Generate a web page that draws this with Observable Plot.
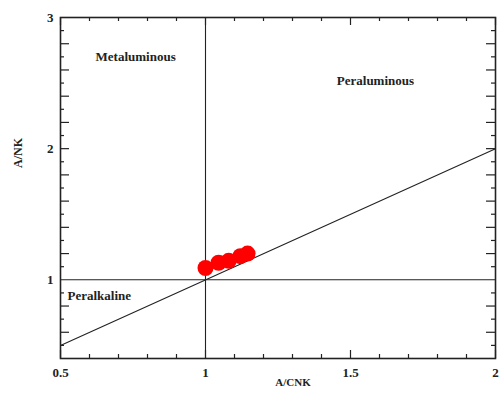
<!DOCTYPE html>
<html><head><meta charset="utf-8">
<script src="https://cdn.jsdelivr.net/npm/d3@7"></script>
<script src="https://cdn.jsdelivr.net/npm/@observablehq/plot@0.6"></script>
<style>body{margin:0;background:#fff}</style>
</head><body><div id="chart"></div>
<script>
// Sample data (A/CNK vs A/NK)
const acnk = [1.00, 1.045, 1.08, 1.12, 1.145];
const ank  = [1.09, 1.13, 1.145, 1.18, 1.20];
// Axis ticks
const xTicks = [0.5, 1, 1.5, 2];
const yTicks = [1, 2, 3];
const xMinor = [0.6,0.7,0.8,0.9,1.1,1.2,1.3,1.4,1.6,1.7,1.8,1.9];
const yShort = [0.5,0.7,0.9,1.1,1.3,1.5,1.7,1.9,2.1,2.3,2.5,2.7,2.9];
const yLong  = [0.6,0.8,1.2,1.4,1.6,1.8,2.2,2.4,2.6,2.8,2];
// Field boundaries
const lineAcnk = [0.5, 2];
const lineAnk  = [0.5, 2];
// Field names
const regionNames = ["Metaluminous", "Peraluminous", "Peralkaline"];
const regionX = [0.759, 1.586, 0.524];
const regionY = [2.70, 2.52, 0.878];

const W = 501, H = 400, mL = 60, mR = 6, mT = 17, mB = 42;
const pw = W - mL - mR, ph = H - mT - mB;
const font = "'Liberation Serif','Times New Roman',serif";
const ink = "#222";

const pts = acnk.map((x, i) => ({x, y: ank[i]}));
const diag = lineAcnk.map((x, i) => ({x, y: lineAnk[i]}));
const regions = regionNames.map((t, i) => ({t, x: regionX[i], y: regionY[i]}));

const chart = Plot.plot({
  width: W, height: H,
  marginLeft: mL, marginRight: mR, marginTop: mT, marginBottom: mB,
  style: {fontFamily: font, fontWeight: "bold", background: "#fff", color: ink},
  x: {domain: [0.5, 2]},
  y: {domain: [0.4, 3]},
  marks: [
    // field boundaries
    Plot.ruleX([1], {stroke: ink, strokeWidth: 1.1}),
    Plot.ruleY([1], {stroke: ink, strokeWidth: 1.1}),
    Plot.line(diag, {x: "x", y: "y", stroke: ink, strokeWidth: 1.1}),
    // inward ticks: bottom & top
    Plot.ruleX(xMinor, {stroke: ink, strokeWidth: 1.2, insetTop: ph - 4}),
    Plot.ruleX(xMinor, {stroke: ink, strokeWidth: 1.2, insetBottom: ph - 4}),
    Plot.ruleX(xTicks, {stroke: ink, strokeWidth: 1.2, insetTop: ph - 8}),
    Plot.ruleX(xTicks, {stroke: ink, strokeWidth: 1.2, insetBottom: ph - 8}),
    // inward ticks: left & right
    Plot.ruleY(yShort, {stroke: ink, strokeWidth: 1.2, insetRight: pw - 4}),
    Plot.ruleY(yLong, {stroke: ink, strokeWidth: 1.2, insetRight: pw - 9}),
    Plot.ruleY(yShort, {stroke: ink, strokeWidth: 1.2, insetLeft: pw - 4}),
    Plot.ruleY(yLong, {stroke: ink, strokeWidth: 1.2, insetLeft: pw - 9}),
    Plot.frame({stroke: ink, strokeWidth: 1.6}),
    // tick labels
    Plot.axisX(xTicks, {tickSize: 0, tickPadding: 9, fontSize: 13, fontWeight: "bold", label: null, tickFormat: d => String(d)}),
    Plot.axisY(yTicks, {tickSize: 0, tickPadding: 7, fontSize: 13, fontWeight: "bold", label: null, tickFormat: d => String(d)}),
    // axis titles
    Plot.text(["A/CNK"], {frameAnchor: "bottom", dy: 27, dx: 15, fontSize: 11, fontWeight: "bold", fill: ink}),
    Plot.text(["A/NK"], {frameAnchor: "left", dx: -42, dy: -20, rotate: -90, fontSize: 12, fontWeight: "bold", fill: ink}),
    // region names
    Plot.text(regions.slice(0, 2), {x: "x", y: "y", text: "t", textAnchor: "middle", fontSize: 13, fontWeight: "bold", fill: ink}),
    Plot.text(regions.slice(2), {x: "x", y: "y", text: "t", textAnchor: "start", fontSize: 13, fontWeight: "bold", fill: ink}),
    // samples
    Plot.dot(pts, {x: "x", y: "y", r: 8, fill: "#ff0000", stroke: "none"})
  ]
});
document.getElementById("chart").appendChild(chart);
</script>
</body></html>
